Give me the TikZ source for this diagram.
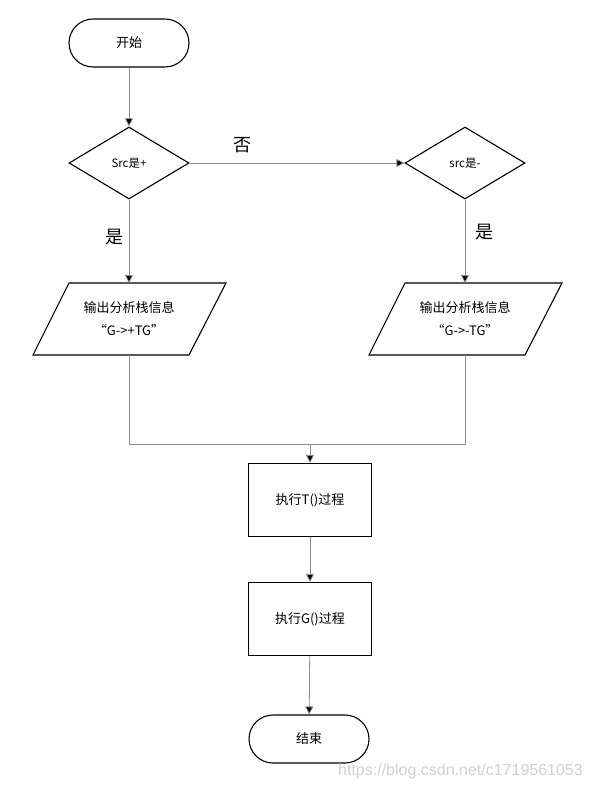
\documentclass[tikz,border=0pt]{standalone}
\usepackage{fontspec}
\setmainfont{Noto Sans CJK SC}
\newfontfamily\wmfont{Liberation Sans}
\usetikzlibrary{shapes.geometric,arrows.meta,calc}
\begin{document}
\begin{tikzpicture}[x=1pt,y=-1pt,
  shapeline/.style={draw=black,line width=1.1pt,font=\fontsize{13}{16}\selectfont,align=center},
  term/.style={shapeline,rectangle,rounded corners=24pt,minimum width=120pt,minimum height=48pt,inner sep=0pt},
  decide/.style={shapeline,diamond,minimum width=120pt,minimum height=72pt,inner sep=0pt,font=\fontsize{11.5}{13}\selectfont},
  procbox/.style={shapeline,rectangle,minimum width=123pt,minimum height=73pt,inner sep=0pt},
  iotext/.style={draw=none,align=center,font=\fontsize{13}{23}\selectfont,inner sep=0pt,minimum width=120pt,minimum height=72pt},
  conn/.style={draw=black!45,line width=0.8pt},
  arr/.style={conn,-{Triangle[length=8pt,width=8pt,fill=black]}},
  lab/.style={font=\fontsize{18}{20}\selectfont,inner sep=0pt}
]
\useasboundingbox[fill=white] (0,0) rectangle (592,789);

\node[term] (start) at (129,43) {开始};
\node[decide] (d1) at (129,163) {Src是+};
\node[decide] (d2) at (465,163) {src是-};

% parallelograms
\node[iotext] (p1) at (129,319) {输出分析栈信息\\“G->+TG”};
\draw[line width=1.1pt,line join=miter] ($(p1.center)+(-60,-36)$) -- ($(p1.center)+(97,-36)$) -- ($(p1.center)+(60,36)$) -- ($(p1.center)+(-96,36)$) -- cycle;
\node[iotext] (p2) at (465,319) {输出分析栈信息\\“G->-TG”};
\draw[line width=1.1pt,line join=miter] ($(p2.center)+(-60,-36)$) -- ($(p2.center)+(97,-36)$) -- ($(p2.center)+(60,36)$) -- ($(p2.center)+(-96,36)$) -- cycle;

\node[procbox] (b1) at (310,500) {执行T()过程};
\node[procbox] (b2) at (310,619) {执行G()过程};
\node[term] (stop) at (309,739) {结束};

\coordinate (j1) at (129,444);
\coordinate (j2) at (465,444);
\coordinate (jm) at (310,444);

\draw[arr] (start) -- (d1);
\draw[arr] (d1) -- (d2);
\draw[arr] (d1) -- ($(p1.center)+(0,-36)$);
\draw[arr] (d2) -- ($(p2.center)+(0,-36)$);
\draw[conn] ($(p1.center)+(0,36)$) -- (j1) -- (j2) -- ($(p2.center)+(0,36)$);
\draw[arr] (jm) -- (b1);
\draw[arr] (b1) -- (b2);
\draw[arr] (b2) -- (stop);

\node[lab] (no) at (242,145) {否};
\node[lab] (yes1) at (114,237) {是};
\node[lab] (yes2) at (484,232) {是};

\node[font=\wmfont\fontsize{16}{18}\selectfont,text=black!18,inner sep=0pt,anchor=east] (wm) at (583,771) {https://blog.csdn.net/c1719561053};
\end{tikzpicture}
\end{document}
